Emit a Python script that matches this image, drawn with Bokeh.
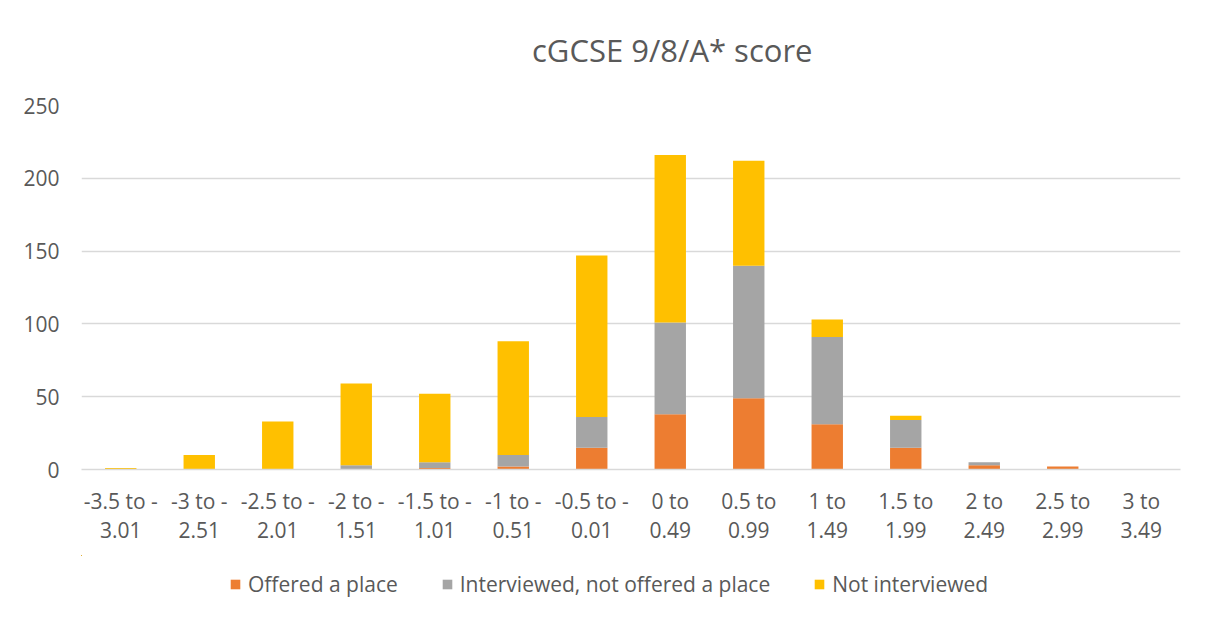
from bokeh.plotting import figure
from bokeh.models import (ColumnDataSource, Legend, LegendItem, Range1d, LinearAxis,
                          FixedTicker, Div)
from bokeh.layouts import column
from bokeh.embed import file_html
from bokeh.resources import INLINE

categories = ["-3.5 to -3.01", "-3 to -2.51", "-2.5 to -2.01", "-2 to -1.51",
              "-1.5 to -1.01", "-1 to -0.51", "-0.5 to -0.01", "0 to 0.49",
              "0.5 to 0.99", "1 to 1.49", "1.5 to 1.99", "2 to 2.49",
              "2.5 to 2.99", "3 to 3.49"]
label_line1 = ["-3.5 to -", "-3 to -", "-2.5 to -", "-2 to -", "-1.5 to -", "-1 to -",
               "-0.5 to -", "0 to", "0.5 to", "1 to", "1.5 to", "2 to", "2.5 to", "3 to"]
label_line2 = ["3.01", "2.51", "2.01", "1.51", "1.01", "0.51", "0.01", "0.49",
               "0.99", "1.49", "1.99", "2.49", "2.99", "3.49"]
offered = [0, 0, 0, 0, 1, 2, 15, 38, 49, 31, 15, 3, 2, 0]
interviewed = [0, 0, 0, 3, 4, 8, 21, 63, 91, 60, 19, 2, 0, 0]
not_interviewed = [1, 10, 33, 56, 47, 78, 111, 115, 72, 12, 3, 0, 0, 0]
series_names = ["Offered a place", "Interviewed, not offered a place", "Not interviewed"]
colors = ["#ED7D31", "#A5A5A5", "#FFC000"]
title_text = "cGCSE 9/8/A* score"
y_ticks = [0, 50, 100, 150, 200, 250]

FONT = "Open Sans"
TXT = "#595959"
GRID = "#d9d9d9"

# category slots on a numeric axis: category i is centred at i + 0.5
xpos = [i + 0.5 for i in range(len(categories))]
stackers = ["offered", "interviewed", "not_interviewed"]

src = ColumnDataSource(dict(x=xpos, cat=categories, offered=offered,
                            interviewed=interviewed, not_interviewed=not_interviewed))

# title strip
title = Div(text=title_text, width=1200, height=80,
            styles={"font-family": FONT, "font-size": "31px", "color": TXT,
                    "line-height": "100px", "text-indent": "532px",
                    "white-space": "nowrap", "margin": "0", "padding": "0"})

p = figure(x_range=Range1d(0, len(categories)), y_range=(0, 250),
           width=1200, height=475, output_backend="svg", toolbar_location=None,
           x_axis_location=None, title=None,
           min_border_left=81, min_border_right=20, min_border_top=25,
           min_border_bottom=86)

renderers = p.vbar_stack(stackers, x="x", width=0.4, color=colors, line_color=None, source=src)

p.outline_line_color = None
p.background_fill_color = "white"
p.border_fill_color = "white"

p.xgrid.grid_line_color = None
p.ygrid.grid_line_color = GRID
p.ygrid.grid_line_width = 1.3
p.yaxis.ticker = y_ticks

p.yaxis.axis_line_color = None
p.yaxis.major_tick_line_color = None
p.yaxis.minor_tick_line_color = None
p.yaxis.major_tick_out = 0
p.yaxis.major_label_standoff = 22
p.yaxis.major_label_text_font = FONT
p.yaxis.major_label_text_font_size = "21px"
p.yaxis.major_label_text_color = TXT

def cat_axis(labels, standoff, line_color):
    return LinearAxis(ticker=FixedTicker(ticks=xpos, minor_ticks=[]),
                      major_label_overrides={t: l for t, l in zip(xpos, labels)},
                      axis_line_color=line_color, axis_line_width=1.3,
                      major_tick_line_color=None, minor_tick_line_color=None,
                      major_tick_out=0, major_tick_in=0, minor_tick_out=0, minor_tick_in=0,
                      major_label_standoff=standoff, major_label_text_font=FONT,
                      major_label_text_font_size="21px", major_label_text_color=TXT)

p.add_layout(cat_axis(label_line1, 17, GRID), "below")
p.add_layout(cat_axis(label_line2, 4, None), "below")

# legend strip below the chart (its glyphs share the chart's data but lie outside its view)
lg = figure(width=1200, height=55, x_range=(100, 114), y_range=(-2, -1),
            output_backend="svg", toolbar_location=None,
            x_axis_location=None, y_axis_location=None,
            min_border_left=0, min_border_right=0, min_border_top=0, min_border_bottom=0)
lg.grid.grid_line_color = None
lg.outline_line_color = None
lg_renderers = lg.vbar_stack(stackers, x="x", width=0, color=colors, line_color=None, source=src)
legend = Legend(items=[LegendItem(label=n, renderers=[r]) for n, r in zip(series_names, lg_renderers)],
                orientation="horizontal", location=(148, 12),
                label_text_font=FONT, label_text_font_size="21px", label_text_color=TXT,
                glyph_width=12, glyph_height=12, label_standoff=7, spacing=43,
                padding=0, margin=0, border_line_color=None, background_fill_alpha=0)
lg.add_layout(legend, "center")

layout = column(title, p, lg, spacing=0)
open("out.html", "w").write(file_html(layout, INLINE))
